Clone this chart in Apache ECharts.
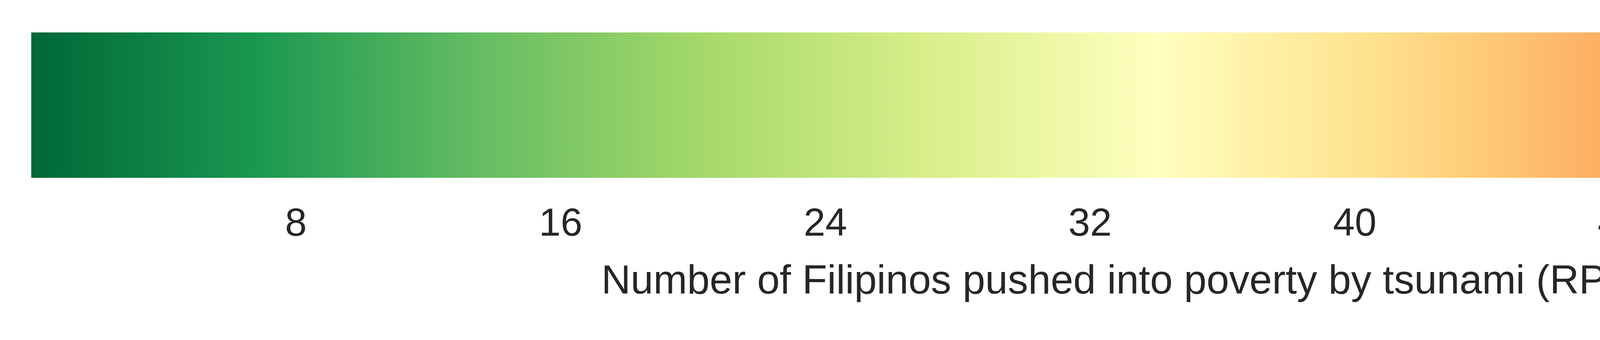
<!DOCTYPE html>
<html>
<head>
<meta charset="utf-8">
<script src="https://cdn.jsdelivr.net/npm/echarts@6/dist/echarts.min.js"></script>
<style>
  html, body { margin: 0; padding: 0; background: #fff; }
  #chart { width: 5920px; height: 870px; }
</style>
</head>
<body>
<div id="chart"></div>
<script>
// colour bar range and ticks
const range_min = 0;
const range_max = 68;
const tick_step = 8;
const axis_title = 'Number of Filipinos pushed into poverty by tsunami (RP = 20)';
// RdYlGn reversed, low -> high
const cmap_colors = ['#006837', '#1a9850', '#66bd63', '#a6d96a', '#d9ef8b', '#ffffbf',
    '#fee08b', '#fdae61', '#f46d43', '#d73027', '#a50026'];

let stops = cmap_colors.map((c, i) => ({offset: i / (cmap_colors.length - 1), color: c}));

let option = {
    animation: false,
    grid: {left: 80, right: 80, top: 83, height: 372},
    xAxis: {
        type: 'value', min: range_min, max: range_max, interval: tick_step,
        axisLine: {show: false}, axisTick: {show: false}, splitLine: {show: false},
        axisLabel: {
            fontSize: 100, color: '#262626', fontFamily: 'Liberation Sans', margin: 70,
            showMaxLabel: false,
            formatter: function (value) {
                return value === range_min ? '' : String(value);
            }
        },
        name: axis_title, nameLocation: 'middle', nameGap: 215,
        nameTextStyle: {fontSize: 104, color: '#262626', fontFamily: 'Liberation Sans'}
    },
    yAxis: {type: 'category', data: ['bar'], show: false},
    series: [{
        type: 'bar', data: [range_max], barWidth: '100%', silent: true,
        itemStyle: {color: new echarts.graphic.LinearGradient(0, 0, 1, 0, stops)}
    }]
};

let my_chart = echarts.init(document.getElementById('chart'));
my_chart.setOption(option);
</script>
</body>
</html>
